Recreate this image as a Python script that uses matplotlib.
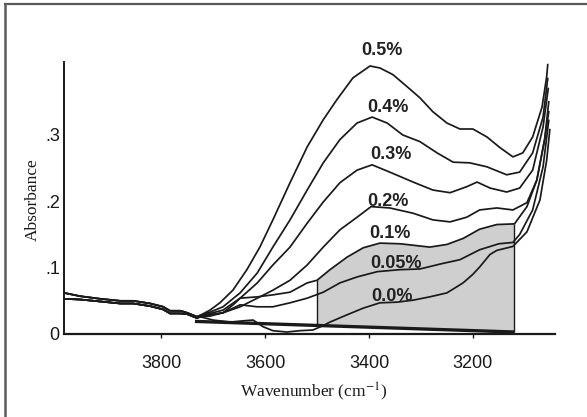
import numpy as np
import matplotlib
matplotlib.use("Agg")
import matplotlib.pyplot as plt
from matplotlib.lines import Line2D

# ---- data (wavenumber in cm-1, absorbance) ----
# shared region left of ~3725 cm-1 where all spectra overlap
left_wn = [3987, 3956, 3917, 3879, 3854, 3821, 3796, 3783, 3763, 3750, 3731, 3725]
left_hi = [0.062, 0.057, 0.053, 0.050, 0.050, 0.046, 0.041, 0.035, 0.035, 0.032, 0.026, 0.028]
left_lo = [0.053, 0.052, 0.049, 0.046, 0.046, 0.042, 0.037, 0.031, 0.031, 0.030, 0.024, 0.026]

c05_wn = [3706, 3687, 3662, 3635, 3610, 3585, 3552, 3519, 3488, 3462, 3431, 3398, 3379, 3354,
          3327, 3302, 3277, 3250, 3225, 3200, 3173, 3148, 3123, 3104, 3085, 3067, 3058, 3056]
c05 = [0.036, 0.047, 0.066, 0.097, 0.131, 0.172, 0.228, 0.282, 0.323, 0.353, 0.386, 0.404, 0.401, 0.391,
       0.373, 0.356, 0.335, 0.318, 0.309, 0.309, 0.297, 0.281, 0.267, 0.273, 0.297, 0.342, 0.388, 0.406]

c04_wn = [3706, 3681, 3648, 3615, 3585, 3552, 3519, 3488, 3456, 3423, 3394, 3365, 3335, 3302,
          3269, 3238, 3206, 3173, 3135, 3110, 3085, 3065, 3056]
c04 = [0.033, 0.041, 0.062, 0.092, 0.131, 0.172, 0.217, 0.258, 0.293, 0.318, 0.327, 0.318, 0.300, 0.290,
       0.273, 0.259, 0.258, 0.252, 0.240, 0.244, 0.273, 0.327, 0.385]

c03_wn = [3706, 3681, 3648, 3615, 3585, 3552, 3519, 3488, 3456, 3423, 3394, 3360, 3315, 3277,
          3244, 3212, 3192, 3167, 3135, 3110, 3085, 3065, 3055]
c03 = [0.031, 0.036, 0.054, 0.077, 0.104, 0.131, 0.167, 0.199, 0.228, 0.247, 0.255, 0.244, 0.229, 0.217,
       0.213, 0.222, 0.229, 0.220, 0.214, 0.220, 0.247, 0.312, 0.370]

c02_wn = [3706, 3681, 3648, 3615, 3585, 3552, 3519, 3488, 3456, 3423, 3396, 3360, 3315, 3277,
          3244, 3212, 3187, 3154, 3123, 3096, 3077, 3062, 3054]
c02 = [0.029, 0.032, 0.041, 0.054, 0.066, 0.081, 0.104, 0.131, 0.157, 0.176, 0.192, 0.190, 0.182, 0.172,
       0.169, 0.176, 0.187, 0.190, 0.187, 0.198, 0.232, 0.293, 0.350]

c01_wn = [3706, 3681, 3660, 3648, 3615, 3585, 3552, 3519, 3500, 3475, 3442, 3411, 3379, 3340,
          3283, 3250, 3219, 3187, 3154, 3120, 3096, 3077, 3062, 3054]
c01 = [0.029, 0.032, 0.045, 0.054, 0.056, 0.059, 0.063, 0.077, 0.081, 0.097, 0.116, 0.130, 0.137, 0.136,
       0.131, 0.135, 0.144, 0.158, 0.165, 0.166, 0.192, 0.232, 0.293, 0.335]

c005_wn = [3706, 3681, 3648, 3615, 3585, 3552, 3519, 3488, 3456, 3423, 3384, 3340, 3302, 3260,
           3225, 3187, 3150, 3123, 3110, 3085, 3065, 3054]
c005 = [0.027, 0.032, 0.044, 0.041, 0.041, 0.047, 0.054, 0.063, 0.077, 0.086, 0.094, 0.097, 0.098, 0.106,
        0.112, 0.127, 0.136, 0.138, 0.150, 0.187, 0.252, 0.322]

c00_wn = [3700, 3667, 3640, 3623, 3604, 3585, 3558, 3533, 3508, 3490, 3475, 3442, 3411, 3379,
          3346, 3315, 3283, 3250, 3219, 3200, 3187, 3167, 3154, 3123, 3096, 3071, 3058, 3052]
c00 = [0.021, 0.018, 0.020, 0.021, 0.011, 0.005, 0.003, 0.005, 0.006, 0.012, 0.018, 0.029, 0.039, 0.047,
       0.048, 0.051, 0.056, 0.062, 0.077, 0.090, 0.101, 0.120, 0.126, 0.132, 0.154, 0.202, 0.262, 0.308]

# integration baseline and band limits
base_wn = [3735, 3120]
base_abs = [0.019, 0.003]
band_lo, band_hi = 3120, 3500

labels = ["0.5%", "0.4%", "0.3%", "0.2%", "0.1%", "0.05%", "0.0%"]
yticks = [0, 0.1, 0.2, 0.3]
ytick_labels = ["0", ".1", ".2", ".3"]
xticks = [3800, 3600, 3400, 3200]

series = [
    (c05_wn, c05, left_hi), (c04_wn, c04, left_hi), (c03_wn, c03, left_hi),
    (c02_wn, c02, left_lo), (c01_wn, c01, left_lo), (c005_wn, c005, left_lo),
    (c00_wn, c00, left_lo),
]

# ---- figure ----
fig = plt.figure(figsize=(5.87, 4.17), dpi=100)
ax = fig.add_axes([64 / 587, 1 - 334 / 417, (555 - 64) / 587, (334 - 62) / 417])
ax.set_xlim(3987, 3042)
ax.set_ylim(0, 0.41)

ink = "#1a1a1a"

# shaded band under the 0.1% spectrum
wn01 = np.array(c01_wn)
ab01 = np.array(c01)
m = (wn01 <= band_hi) & (wn01 >= band_lo)
b_lo = np.interp(band_lo, base_wn[::-1], base_abs[::-1])
b_hi = np.interp(band_hi, base_wn[::-1], base_abs[::-1])
ax.fill(np.concatenate([wn01[m], [band_lo, band_hi]]),
        np.concatenate([ab01[m], [b_lo, b_hi]]),
        color="#cfcfcf", lw=0, zorder=1)
ax.vlines([band_hi, band_lo], [b_hi, b_lo], [ab01[wn01 == band_hi][0], ab01[wn01 == band_lo][0]],
          color=ink, lw=1.0, zorder=2)

# baseline
ax.plot(base_wn, base_abs, color=ink, lw=2.4, zorder=3, solid_capstyle="butt")

# spectra
for wn, ab, left in series:
    ax.plot(left_wn + wn, left + ab, color=ink, lw=1.25, zorder=4)

# curve labels
lab_pos = [(3375, 0.427), (3363, 0.342), (3358, 0.271), (3363, 0.199),
           (3360, 0.151), (3348, 0.107), (3356, 0.057)]
for txt, (x, y) in zip(labels, lab_pos):
    ax.text(x, y, txt, ha="center", va="center", fontsize=13, fontweight="bold",
            family="Liberation Sans", color="#222222", zorder=5, clip_on=False)

# axes styling
for s in ("top", "right"):
    ax.spines[s].set_visible(False)
ax.spines["left"].set_linewidth(1.4)
ax.spines["bottom"].set_linewidth(1.6)
ax.spines["left"].set_color(ink)
ax.spines["bottom"].set_color(ink)

ax.set_xticks(xticks)
ax.set_xticklabels([str(t) for t in xticks])
ax.set_yticks(yticks)
ax.set_yticklabels(ytick_labels)
ax.tick_params(axis="x", length=3, width=1, direction="out", pad=12, labelsize=13, colors=ink)
ax.tick_params(axis="y", length=0, pad=3, labelsize=13, colors=ink)
for lab in ax.get_xticklabels() + ax.get_yticklabels():
    lab.set_family("Liberation Sans")

plt.rcParams["mathtext.fontset"] = "stix"
fig.text(314 / 587, 1 - 392 / 417, r"Wavenumber (cm$^{-1}$)", ha="center", va="center",
         fontsize=12.5, family="Liberation Serif", color=ink)
fig.text(33 / 587, 1 - 200 / 417, "Absorbance", ha="center", va="center", rotation=90,
         fontsize=12.5, family="Liberation Serif", color=ink)

# scanned page frame (top and left edges)
fig.add_artist(Line2D([4.5 / 587, 1], [1 - 3.5 / 417, 1 - 3.5 / 417],
                      transform=fig.transFigure, color="#5a5a5a", lw=1.6))
fig.add_artist(Line2D([5 / 587, 5 / 587], [0, 1 - 3.5 / 417],
                      transform=fig.transFigure, color="#5a5a5a", lw=1.8))

fig.savefig("out.png", dpi=100)
